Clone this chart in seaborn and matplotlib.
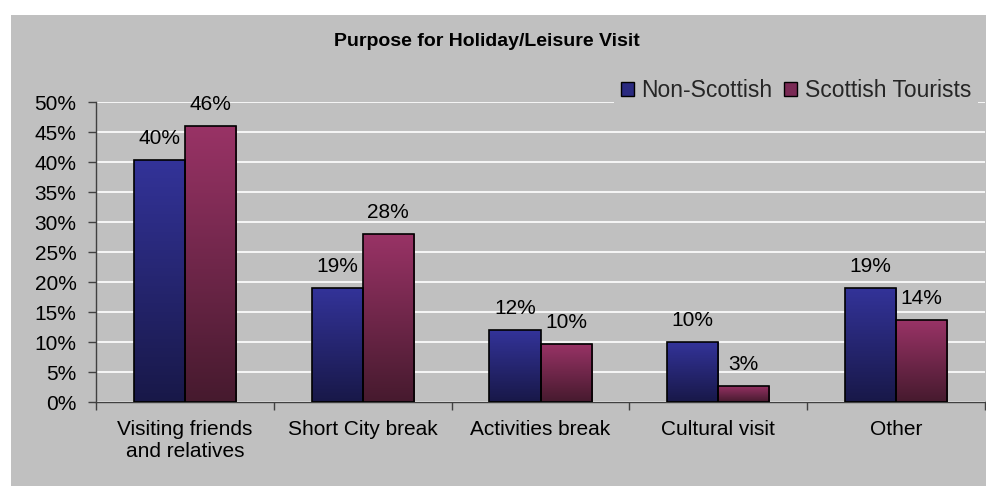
import numpy as np
import pandas as pd
import matplotlib
matplotlib.use("Agg")
import matplotlib.pyplot as plt
from matplotlib.patches import Rectangle
from matplotlib.colors import LinearSegmentedColormap
import seaborn as sns

categories = ["Visiting friends\nand relatives", "Short City break",
              "Activities break", "Cultural visit", "Other"]
non_scottish = [40.3, 19.0, 12.0, 10.0, 19.0]
scottish = [46.0, 28.0, 9.7, 2.7, 13.6]
series_names = ["Non-Scottish", "Scottish Tourists"]
y_ticks = [0, 5, 10, 15, 20, 25, 30, 35, 40, 45, 50]

df = pd.DataFrame({
    "category": categories * 2,
    "value": non_scottish + scottish,
    "series": [series_names[0]] * len(categories) + [series_names[1]] * len(categories),
})

sns.set_theme(style="white")
plt.rcParams["font.family"] = ["Liberation Sans", "DejaVu Sans"]

FS = 15
bg = "#c0c0c0"
fig = plt.figure(figsize=(9.86, 4.86), dpi=100)
fig.patch.set_facecolor("white")
fig.patches.append(Rectangle((11 / 986, 0), 1 - 11 / 986, 1 - 15 / 486,
                             transform=fig.transFigure, facecolor=bg,
                             edgecolor="none", zorder=-10))

ax = fig.add_axes([96 / 986, 1 - 402 / 486, (985 - 96) / 986, 300 / 486])
ax.set_facecolor(bg)

palette = {series_names[0]: "#333399", series_names[1]: "#993366"}
sns.barplot(data=df, x="category", y="value", hue="series", palette=palette,
            width=0.575, gap=0, ax=ax, legend=False, errorbar=None,
            edgecolor="black", linewidth=1.2, zorder=3)

# vertical gradients inside each bar (light top, dark bottom)
grad_maps = {
    series_names[0]: LinearSegmentedColormap.from_list("g0", ["#181848", "#333399"]),
    series_names[1]: LinearSegmentedColormap.from_list("g1", ["#461a2e", "#993366"]),
}
n = len(categories)
bars = list(ax.patches)
grad = np.linspace(0, 1, 256).reshape(-1, 1)
for i, bar in enumerate(bars[:2 * n]):
    s = series_names[i // n]
    x0, y0 = bar.get_x(), bar.get_y()
    w, h = bar.get_width(), bar.get_height()
    im = ax.imshow(grad, cmap=grad_maps[s], aspect="auto", origin="lower",
                   extent=[x0, x0 + w, y0, y0 + h], zorder=2.5)
    im.set_clip_path(bar)
    bar.set_facecolor("none")
    vals = non_scottish if i < n else scottish
    v = vals[i % n]
    ax.annotate(f"{v:.0f}%", (x0 + w / 2, y0 + h), xytext=(0, 11.5),
                textcoords="offset points", ha="center", va="baseline",
                fontsize=FS, color="black", zorder=5, annotation_clip=False)

ax.set_xlim(-0.5, n - 0.5)
ax.set_ylim(0, 50)
ax.set_yticks(y_ticks)
ax.set_yticklabels([f"{t}%" for t in y_ticks])
ax.yaxis.grid(True, color="white", linewidth=1.2, zorder=0)
ax.set_axisbelow(True)
ax.set_xlabel("")
ax.set_ylabel("")

ax.set_xticks(range(n))
ax.set_xticklabels(categories)
ax.set_xticks(np.arange(-0.5, n), minor=True)
ax.tick_params(axis="x", which="major", length=0, pad=13, labelsize=FS,
               colors="black")
ax.tick_params(axis="x", which="minor", length=6, width=1, color="#404040",
               direction="out", bottom=True)
ax.tick_params(axis="y", length=6, width=1, color="#404040", direction="out",
               pad=8, labelsize=FS, left=True, labelcolor="black")

for side in ["top", "right"]:
    ax.spines[side].set_visible(False)
for side in ["left", "bottom"]:
    ax.spines[side].set_color("#404040")
    ax.spines[side].set_linewidth(1)

fig.text(487 / 986, 1 - 42 / 486, "Purpose for Holiday/Leisure Visit",
         ha="center", va="center", fontsize=14, fontweight="bold", color="black")

handles = [Rectangle((0, 0), 1, 1, facecolor="#2a2a80", edgecolor="black", lw=1),
           Rectangle((0, 0), 1, 1, facecolor="#7a2a55", edgecolor="black", lw=1)]
leg = fig.legend(handles, series_names, loc="upper right",
                 bbox_to_anchor=(978 / 986, 1 - 72 / 486), ncol=2, frameon=True,
                 fontsize=16.5, handlelength=0.55, handleheight=0.55,
                 handletextpad=0.35, columnspacing=0.5, borderpad=0.3,
                 borderaxespad=0)
leg.get_frame().set_facecolor(bg)
leg.get_frame().set_edgecolor("none")
leg.get_frame().set_alpha(1)

fig.savefig("out.png", dpi=100, facecolor=fig.get_facecolor())
